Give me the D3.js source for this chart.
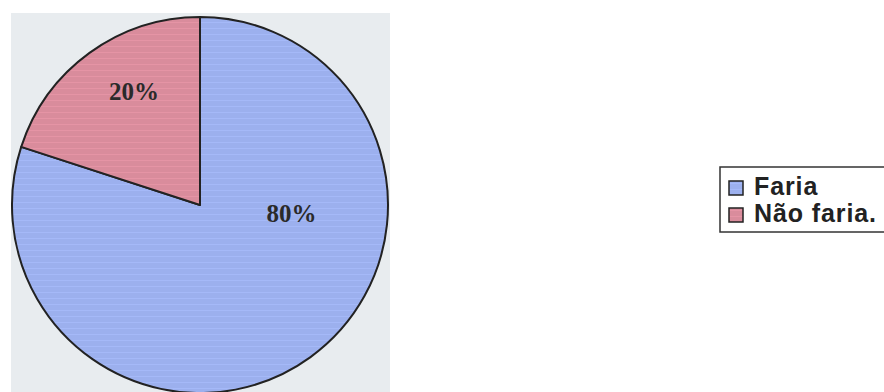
<!DOCTYPE html>
<html>
<head>
<meta charset="utf-8">
<script src="https://cdn.jsdelivr.net/npm/d3@7"></script>
<style>
  html, body { margin: 0; padding: 0; background: #ffffff; }
  svg { display: block; }
</style>
</head>
<body>
<svg id="chart" width="884" height="392"></svg>
<script>
// Data
const categories = ["Faria", "Não faria."];
const values = [80, 20];
const labels = ["80%", "20%"];
const colors = ["#9cb0ee", "#d98c9c"];

const svg = d3.select("#chart");
const W = 884, H = 392;

// Plot area background
svg.append("rect")
  .attr("x", 11).attr("y", 13)
  .attr("width", 379).attr("height", H - 13)
  .attr("fill", "#e8ecef");

// Stripe patterns to mimic texture
const defs = svg.append("defs");
colors.forEach((c, i) => {
  const p = defs.append("pattern")
    .attr("id", "pat" + i)
    .attr("patternUnits", "userSpaceOnUse")
    .attr("width", 8).attr("height", 6);
  p.append("rect").attr("width", 8).attr("height", 6).attr("fill", c);
  p.append("rect").attr("y", 3).attr("width", 8).attr("height", 1)
    .attr("fill", d3.color(c).brighter(0.25)).attr("opacity", 0.6);
});

const cx = 200, cy = 205, r = 188;

const pie = d3.pie().sort(null).value(d => d.v);
const arcs = pie(values.map((v, i) => ({ v, i })));
const arc = d3.arc().innerRadius(0).outerRadius(r);

const g = svg.append("g").attr("transform", `translate(${cx},${cy})`);

g.selectAll("path.slice")
  .data(arcs)
  .enter().append("path")
  .attr("class", "slice")
  .attr("d", arc)
  .attr("fill", d => `url(#pat${d.data.i})`)
  .attr("stroke", "#222")
  .attr("stroke-width", 2)
  .attr("stroke-linejoin", "round");

// Label placement (fractions of radius, relative to center)
const labelOffsets = [[0.487, 0.09], [-0.351, -0.559]];
g.selectAll("text.lbl")
  .data(arcs)
  .enter().append("text")
  .attr("class", "lbl")
  .attr("x", d => labelOffsets[d.data.i][0] * r)
  .attr("y", d => labelOffsets[d.data.i][1] * r)
  .attr("text-anchor", "middle")
  .attr("font-family", "'Liberation Serif', 'Times New Roman', serif")
  .attr("font-weight", "bold")
  .attr("font-size", 25)
  .attr("fill", "#2a2a2a")
  .text(d => labels[d.data.i]);

// Legend
const lg = svg.append("g");
lg.append("rect")
  .attr("x", 720).attr("y", 167)
  .attr("width", 200).attr("height", 65)
  .attr("fill", "#ffffff")
  .attr("stroke", "#333")
  .attr("stroke-width", 1.5);

const rowY = d3.scaleBand().domain(categories).range([168, 222]);
const items = lg.selectAll("g.item")
  .data(categories)
  .enter().append("g")
  .attr("class", "item")
  .attr("transform", d => `translate(0,${rowY(d)})`);

items.append("rect")
  .attr("x", 729).attr("y", 13)
  .attr("width", 14).attr("height", 14)
  .attr("fill", (d, i) => `url(#pat${i})`)
  .attr("stroke", "#222")
  .attr("stroke-width", 1.5);

items.append("text")
  .attr("x", 754).attr("y", 27)
  .attr("font-family", "'Liberation Sans', Arial, sans-serif")
  .attr("font-weight", "bold")
  .attr("font-size", 25)
  .attr("letter-spacing", 0.9)
  .attr("fill", "#222")
  .text(d => d);
</script>
</body>
</html>
